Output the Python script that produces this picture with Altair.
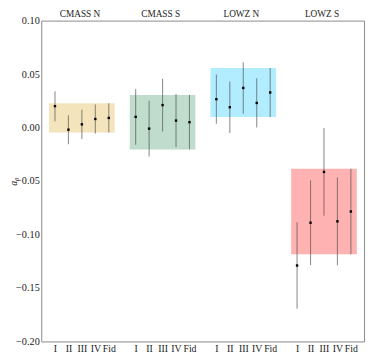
import altair as alt
import pandas as pd

groups = ["CMASS N", "CMASS S", "LOWZ N", "LOWZ S"]
cases = ["I", "II", "III", "IV", "Fid"]
band_colors = ["#f4e4bc", "#c0dccd", "#b2ecff", "#ffb2b2"]

a0_cmass_n = [0.020, -0.002, 0.003, 0.008, 0.009]
err_cmass_n = [0.014, 0.0135, 0.0136, 0.0135, 0.0137]
a0_cmass_s = [0.010, -0.001, 0.021, 0.0065, 0.005]
err_cmass_s = [0.026, 0.026, 0.0247, 0.0248, 0.0255]
a0_lowz_n = [0.0265, 0.019, 0.037, 0.023, 0.0328]
err_lowz_n = [0.023, 0.024, 0.024, 0.023, 0.0229]
a0_lowz_s = [-0.129, -0.089, -0.0415, -0.0877, -0.0785]
err_lowz_s = [0.0405, 0.0396, 0.041, 0.041, 0.040]

values = [a0_cmass_n, a0_cmass_s, a0_lowz_n, a0_lowz_s]
errors = [err_cmass_n, err_cmass_s, err_lowz_n, err_lowz_s]

first = 0.17
step = 0.1667

rows = []
for g, name in enumerate(groups):
    for i, c in enumerate(cases):
        v = values[g][i]
        e = errors[g][i]
        rows.append({"group": name, "case": c, "x": g + first + i * step,
                     "a0": v, "lo": v - e, "hi": v + e})
df = pd.DataFrame(rows)

bands = []
for g, name in enumerate(groups):
    v = values[g][-1]
    e = errors[g][-1]
    bands.append({"group": name, "x1": g + first - 0.44 * step,
                  "x2": g + first + 4 * step + 0.44 * step,
                  "lo": v - e, "hi": v + e, "xc": g + 0.48, "top": 0.10})
bdf = pd.DataFrame(bands)

tick_vals = [round(v, 4) for v in df["x"]]
lbl = "['I','II','III','IV','Fid'][round((datum.value - floor(datum.value) - %g)/%g)]" % (first, step)

xscale = alt.Scale(domain=[0, 4], nice=False, zero=False)
yscale = alt.Scale(domain=[-0.20, 0.10], nice=False, zero=False)

xaxis = alt.Axis(values=tick_vals, labelExpr=lbl, title=None, ticks=False,
                 domain=False, grid=False, labelFont="Liberation Serif",
                 labelFontSize=10, labelColor="#222", labelPadding=2,
                 labelOverlap=False, labelBound=False, labelFlush=False,
                 labelSeparation=0)
yaxis = alt.Axis(values=[-0.20, -0.15, -0.10, -0.05, 0.0, 0.05, 0.10],
                 format=".2f", labelExpr="replace(datum.label, '-', '−')",
                 title="a₀", titleFont="Liberation Serif", titleFontStyle="italic",
                 titleFontWeight="normal", titleFontSize=10, titleColor="#222",
                 titleX=-33, titleBaseline="top",
                 ticks=False, domain=False, grid=False,
                 labelFont="Liberation Serif", labelFontSize=10.5, labelColor="#222",
                 labelPadding=2, labelOverlap=False,
                 labelBound=False, labelFlush=False)

rect = alt.Chart(bdf).mark_rect().encode(
    x=alt.X("x1:Q", scale=xscale, axis=xaxis),
    x2="x2:Q",
    y=alt.Y("lo:Q", scale=yscale, axis=yaxis),
    y2="hi:Q",
    color=alt.Color("group:N", scale=alt.Scale(domain=groups, range=band_colors), legend=None),
)

bars = alt.Chart(df).mark_rule(color="#444", opacity=0.6, strokeWidth=1.1).encode(
    x=alt.X("x:Q", scale=xscale, axis=xaxis),
    y=alt.Y("lo:Q", scale=yscale, axis=yaxis),
    y2="hi:Q",
)

pts = alt.Chart(df).mark_square(size=6, color="black", opacity=1).encode(
    x=alt.X("x:Q", scale=xscale, axis=xaxis),
    y=alt.Y("a0:Q", scale=yscale, axis=yaxis),
)

titles = alt.Chart(bdf).mark_text(font="Liberation Serif", fontSize=9.5, color="#222",
                                  baseline="bottom", dy=-2).encode(
    x=alt.X("xc:Q", scale=xscale, axis=xaxis),
    y=alt.Y("top:Q", scale=yscale, axis=yaxis),
    text="group:N",
)

chart = alt.layer(rect, bars, pts, titles).properties(
    width=330, height=328,
    autosize=alt.AutoSizeParams(type="none"),
    padding={"left": 34, "top": 9, "right": 2, "bottom": 11},
).configure_view(stroke="#888", strokeWidth=1).configure_axisX(labelOverlap=False)

chart.save("out.html", embed_options={"renderer": "svg", "actions": False})
